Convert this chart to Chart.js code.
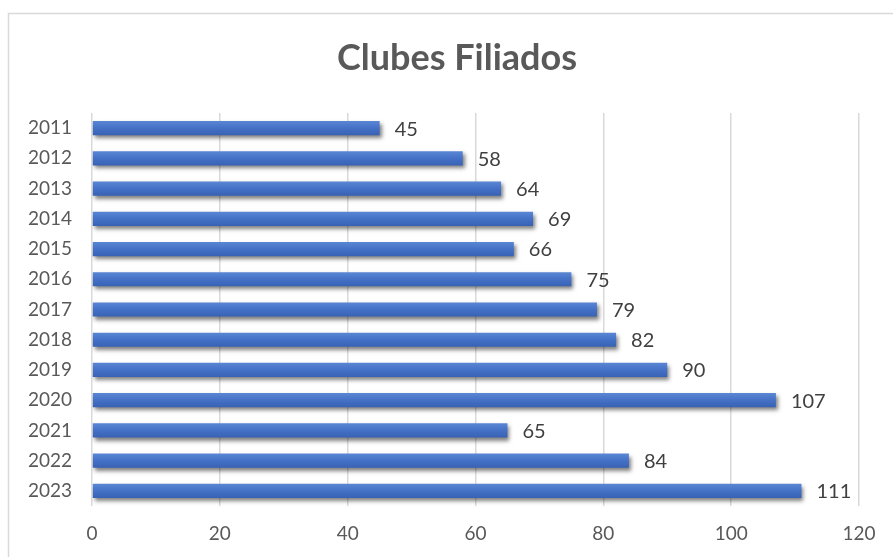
<!DOCTYPE html>
<html>
<head>
<meta charset="utf-8">
<script src="https://cdn.jsdelivr.net/npm/chart.js@4"></script>
<style>
html,body{margin:0;padding:0;background:#fff;}
#wrap{width:893px;height:557px;position:relative;}
</style>
</head>
<body>
<div id="wrap"><canvas id="c" width="893" height="557"></canvas></div>
<script>
const categories = ['2011','2012','2013','2014','2015','2016','2017','2018','2019','2020','2021','2022','2023'];
const values = [45,58,64,69,66,75,79,82,90,107,65,84,111];
const xTicks = [0,20,40,60,80,100,120];
const titleText = 'Clubes Filiados';

const FONT = 'Lato, "Open Sans", sans-serif';

const frame = {
  id: 'frame',
  beforeDraw(chart) {
    const ctx = chart.ctx;
    ctx.save();
    ctx.fillStyle = '#fff';
    ctx.fillRect(0,0,chart.width,chart.height);
    ctx.strokeStyle = '#d9d9d9';
    ctx.lineWidth = 1.5;
    ctx.strokeRect(8.5, 13.5, 900, 600);
    ctx.restore();
  },
  afterDraw(chart) {
    const ctx = chart.ctx;
    ctx.save();
    ctx.font = 'bold 36px ' + FONT;
    ctx.fillStyle = '#595959';
    ctx.textAlign = 'center';
    ctx.textBaseline = 'middle';
    ctx.fillText(titleText, 457, 58);
    ctx.restore();
  }
};

const shadow = {
  id: 'shadow',
  beforeDatasetsDraw(chart) {
    const ctx = chart.ctx;
    ctx.save();
    ctx.shadowColor = 'rgba(0,0,0,0.5)';
    ctx.shadowBlur = 4;
    ctx.shadowOffsetX = 2;
    ctx.shadowOffsetY = 3;
  },
  afterDatasetsDraw(chart) {
    chart.ctx.restore();
  }
};

const labels = {
  id: 'labels',
  afterDatasetsDraw(chart) {
    const ctx = chart.ctx;
    const meta = chart.getDatasetMeta(0);
    ctx.save();
    ctx.font = '20px ' + FONT;
    ctx.fillStyle = '#404040';
    ctx.textAlign = 'left';
    ctx.textBaseline = 'middle';
    meta.data.forEach((bar, i) => {
      ctx.fillText(String(values[i]), bar.x + 15, bar.y + 1);
    });
    ctx.restore();
  }
};

function barGradient(context) {
  const chart = context.chart;
  const ys = chart.scales && chart.scales.y;
  if (!chart.chartArea || !ys || context.dataIndex === undefined) return '#4472c4';
  const y = ys.getPixelForValue(context.dataIndex);
  const h = 14;
  if (!isFinite(y)) return '#4472c4';
  const g = chart.ctx.createLinearGradient(0, y - h/2, 0, y + h/2);
  g.addColorStop(0, '#5a86d4');
  g.addColorStop(0.5, '#4471c6');
  g.addColorStop(1, '#3862b4');
  return g;
}

new Chart(document.getElementById('c'), {
  type: 'bar',
  data: {
    labels: categories,
    datasets: [{
      data: values,
      backgroundColor: barGradient,
      borderWidth: 0,
      barPercentage: 0.47,
      categoryPercentage: 1
    }]
  },
  options: {
    indexAxis: 'y',
    responsive: false,
    animation: false,
    layout: { padding: { left: 0, right: 34, top: 113, bottom: 0 } },
    plugins: {
      legend: { display: false },
      tooltip: { enabled: false },
      title: { display: false }
    },
    scales: {
      x: {
        min: 0, max: 120,
        afterBuildTicks(scale) { scale.ticks = xTicks.map(v => ({ value: v })); },
        afterFit(scale) { scale.height = 51; },
        grid: { color: '#d9d9d9', lineWidth: 1.5, drawTicks: false },
        border: { display: false },
        ticks: { color: '#595959', font: { family: FONT, size: 19 }, padding: 16 }
      },
      y: {
        afterFit(scale) { scale.width = 92; },
        grid: { display: false, drawTicks: false },
        border: { display: false },
        ticks: { color: '#595959', font: { family: FONT, size: 19 }, padding: 20 }
      }
    }
  },
  plugins: [frame, shadow, labels]
});
</script>
</body>
</html>
